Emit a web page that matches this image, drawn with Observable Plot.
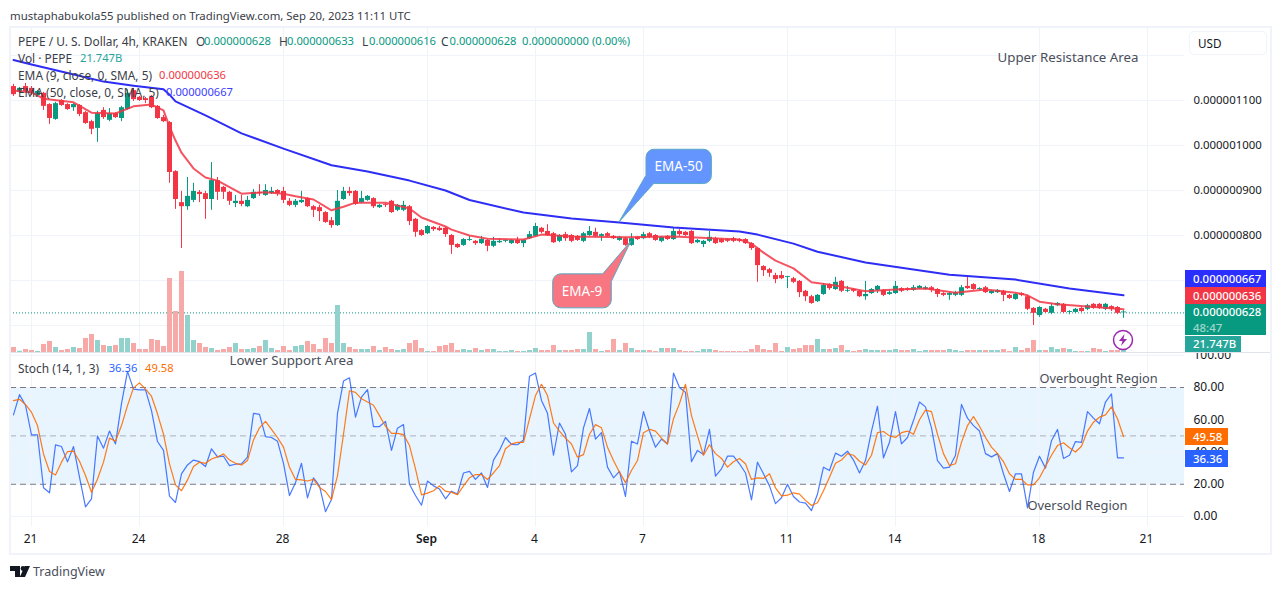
<!DOCTYPE html>
<html>
<head>
<meta charset="utf-8">
<script src="https://cdn.jsdelivr.net/npm/d3@7"></script>
<script src="https://cdn.jsdelivr.net/npm/@observablehq/plot@0.6"></script>
<style>
  html, body { margin: 0; padding: 0; background: #fff; overflow: hidden; }
  body { width: 1281px; height: 589px; position: relative; font-family: "Noto Sans", sans-serif; color: #131722; }
  .abs { position: absolute; white-space: nowrap; }
  .pane { position: absolute; left: 0; }
  .pane svg { display: block; background: transparent; overflow: visible; }
  .leg { position: absolute; font-size: 11.9px; line-height: 16px; white-space: nowrap; color: #3a3d47; }
  .num { font-size: 11.2px; }
  .tag { position: absolute; left: 1185px; color: #fff; font-size: 11.4px; font-weight: 500; padding-left: 8px; box-sizing: border-box; line-height: 17px; }
</style>
</head>
<body>
<script>
// prices are in units of 0.000000001 USD, one candle every 4h
const open = [
  1131,1118,1131,1127,1111,1116,1091,1058,1100,1091,
  1084,1089,1073,1053,1038,1078,1056,1071,1060,1080,
  1122,1107,1104,1107,1087,1062,1051,942,873,864,
  878,896,893,880,922,907,896,871,876,864,
  882,896,889,893,900,898,876,867,873,882,
  864,862,851,833,822,880,898,898,873,878,
  882,862,869,876,856,856,864,836,811,804,
  818,816,816,800,780,778,789,787,782,789,
  776,784,787,782,789,782,793,798,816,809,
  804,787,802,800,798,787,800,807,798,804,
  798,789,793,778,796,793,804,800,787,798,
  791,809,807,809,784,780,787,793,791,791,
  793,791,791,782,771,731,724,711,711,707,
  704,698,676,664,653,669,691,680,698,676,
  680,676,664,671,678,678,669,671,682,682,
  678,682,680,684,680,671,667,667,667,687,
  691,680,684,671,673,676,667,658,671,664,
  638,622,636,627,644,647,629,629,638,636,
  647,647,636,642,640,628];
const close = [
  1113,1127,1120,1116,1120,1087,1060,1093,1089,1080,
  1091,1069,1049,1036,1071,1062,1071,1062,1084,1116,
  1102,1100,1100,1084,1060,1053,940,880,864,887,
  898,891,880,922,896,896,876,876,869,878,
  896,893,900,898,893,878,867,876,878,864,
  856,853,829,822,876,898,893,869,882,887,
  864,867,867,851,867,867,831,807,800,820,
  813,811,802,778,773,791,791,782,791,776,
  787,787,789,789,782,789,802,820,807,800,
  784,800,793,787,789,804,809,798,802,798,
  793,796,778,793,791,802,796,789,796,791,
  809,802,800,782,789,787,796,782,784,787,
  787,787,782,771,733,722,716,702,704,709,
  696,673,664,649,667,689,682,696,676,678,
  676,664,669,680,687,667,673,687,676,678,
  684,687,684,678,669,667,671,673,684,682,
  680,682,673,676,678,667,660,669,667,636,
  627,640,629,642,649,629,631,636,631,644,
  638,638,647,636,627,628];
const high = [
  1136,1129,1138,1131,1122,1118,1093,1096,1102,1093,
  1093,1091,1076,1056,1076,1084,1082,1073,1087,1124,
  1127,1109,1107,1111,1089,1067,1053,944,898,929,
  916,900,898,962,929,909,898,889,889,887,
  902,913,913,907,902,907,882,880,898,884,
  867,867,853,840,900,907,907,900,898,889,
  884,869,871,878,869,876,867,838,813,822,
  820,820,818,802,782,793,798,789,798,791,
  796,793,791,791,796,791,809,827,818,824,
  807,802,807,802,800,807,820,816,804,807,
  800,798,796,804,798,807,807,802,798,800,
  816,813,809,811,791,789,809,796,793,793,
  796,793,793,784,773,733,727,716,720,709,
  707,700,678,667,669,693,693,707,700,687,
  682,678,698,682,689,680,678,698,684,684,
  689,689,687,687,682,673,673,676,689,707,
  693,684,687,678,680,678,669,671,673,667,
  640,642,638,649,651,649,633,638,640,647,
  649,649,649,644,642,633];
const low = [
  1109,1116,1116,1111,1107,1078,1047,1056,1087,1078,
  1076,1064,1047,1024,1007,1058,1053,1060,1053,1078,
  1098,1098,1093,1082,1058,1051,916,858,771,856,
  873,873,836,856,878,880,867,862,864,862,
  880,887,887,891,887,871,864,862,871,862,
  840,831,827,816,820,878,887,867,871,876,
  860,860,862,849,853,853,822,796,798,802,
  809,809,796,758,771,776,787,778,780,764,
  773,782,784,780,780,773,791,796,804,798,
  782,784,787,784,787,784,798,796,787,796,
  791,787,776,776,789,791,793,787,784,789,
  789,798,798,780,782,773,784,780,782,784,
  784,784,780,767,696,709,707,693,702,682,
  693,662,653,647,651,667,678,678,673,673,
  673,662,656,669,671,664,667,669,673,676,
  676,680,678,673,662,664,656,664,664,680,
  678,678,671,669,671,653,658,656,664,633,
  600,618,627,624,642,627,624,627,629,633,
  636,636,633,631,624,616];

// volume in billions
const volume = [
  50,13,30,20,10,80,110,50,20,30,
  50,40,140,180,120,70,60,70,140,140,
  90,30,30,130,120,60,740,410,810,370,
  120,90,50,40,20,30,50,90,30,30,
  40,60,120,40,20,60,20,60,70,110,
  80,30,140,90,470,90,50,30,30,30,
  60,20,50,30,20,30,90,120,40,10,
  10,60,70,90,20,30,20,40,20,30,
  30,10,10,20,10,10,20,40,20,20,
  70,20,20,20,30,30,200,30,10,20,
  130,20,90,40,20,20,20,10,40,40,
  40,20,10,10,10,30,30,20,10,10,
  10,10,10,30,70,30,20,90,10,50,
  30,40,70,70,130,30,30,40,70,20,
  10,20,30,20,20,20,20,30,20,20,
  30,10,20,20,20,20,30,20,10,20,
  20,20,20,20,20,30,10,50,20,40,
  120,20,20,50,30,40,30,10,10,10,
  40,30,10,20,20,21.747];

const stochK = [
  63,75.6,69,50.6,50.6,17.8,14.7,44.4,43.4,33.9,
  43.4,24.4,6,11,50,42.4,53,45,70,90,
  79,78.5,78.5,65.7,46.5,41,12.6,8.7,26.4,32,
  35,34,31,42,37,37.4,31.6,32.4,32.6,36.8,
  64,63.4,49.6,49,46.7,33,13,21,33,11.6,
  24,19,3,10.5,64,84,86,61.6,74,78.7,
  55.8,55.8,59,41,54.8,57,20,13,7,22,
  19,17,11,15.7,14,27,28,23,27,18,
  35,41,49,44.7,44.5,47.5,87,89,72,64,
  38,58,51,27.7,31.6,55,67,48,52,30.6,
  24,28,12.4,46.7,45,65,53,43,48,45,
  89,80,77,34,41,38.4,54,25,29.6,37.4,
  37.4,32.7,27,10.3,33.7,26.5,19,8,11.6,20,
  12.4,9,8.3,3.7,14,30.6,28.5,39.3,37.4,40.5,
  35,27,34.7,53,68.4,36.4,46,65,45,49,
  59.5,71,68,55,34.7,30,30.6,38,69.5,61,
  56.4,53,39,37,39,26.5,15.5,26.5,26.5,5.4,
  27.5,37.4,30,47,54,36,38,46.5,46,65,
  61,57.5,71,76,36.4,36.36];
const stochD = [
  71.9,72.7,69.4,64.7,56.4,38.8,27.9,25.8,33.7,40.3,
  40.5,34.3,25.4,15,23.3,33.7,48.6,46.7,56.4,68.8,
  79.8,82.9,79,74.6,63.7,51,32.6,19.6,16,22.7,
  31,33.7,33,35.7,37,38.8,35,33,32,34.7,
  47.5,55,59,54,49,43,30.5,23,22.7,22,
  23,18,15.5,10.5,25.4,51,78,77,73,71,
  69,62.6,56,51.6,51.6,50.8,44,29.5,13.4,14.5,
  16,19,15.7,15,13.6,19,24,26,26,23,
  27,31.6,42,45,46,46,60.6,75,82,75,
  58,53,48.6,45,36.8,38.4,51,57,55,43,
  34.7,27.5,21,28.5,34.7,52,54,53,48.6,45,
  60.6,70,82,62.6,50,38,44.5,39,36,30.6,
  34,36,32.7,23,24,23.6,26.5,17.8,12.8,13.2,
  14.7,13.9,10,6.8,8.5,16,24.4,33,35,39,
  38,34.3,32,38,52,52.7,50,49,52,53,
  51,60,66,65,51,39,31.6,32.7,46,56.4,
  62,56,49,43,39,34,26.5,23,23,19.6,
  19.6,24,31,38,44,45.7,42.6,40,43.6,53,
  58.5,61.6,63,68,60.6,49.58];

// moving averages, read at the bends of the lines
const ema50Bars = [0,3,9,15,20,25,26,27,32,38,45,53,59,66,72,76,85,93,101,110,121,124,130,134,142,156,167,176,185];
const ema50 = [1190,1180,1161,1142,1133,1125,1113,1098,1067,1027,993,956,942,922,900,879,851,838,829,818,809,802,782,764,740,713,702,682,667];
const ema9Bars = [0,3,5,10,13,17,20,23,25,26,27,28,30,32,34,38,42,45,47,50,53,55,57,62,66,68,72,73,76,79,85,88,93,102,110,121,123,125,127,130,133,137,142,147,152,157,162,167,169,171,174,179,185];
const ema9 = [1122,1118,1104,1096,1073,1071,1087,1091,1078,1042,1011,984,949,929,922,893,896,893,887,880,856,864,873,873,860,840,820,813,800,793,791,802,798,796,798,791,782,762,744,727,696,689,676,680,682,673,680,673,667,653,647,642,636];

const priceTicks = [1100, 1000, 900, 800];
const priceGrid = [1200, 1100, 1000, 900, 800, 700, 600];
const stochTicks = [100, 80, 60, 40, 20, 0];
const dayTicks = ["2023-08-21","2023-08-24","2023-08-28","2023-09-01","2023-09-04","2023-09-07","2023-09-11","2023-09-14","2023-09-18","2023-09-21"].map(d => new Date(d + "T00:00Z"));
const dayLabels = ["21","24","28","Sep","4","7","11","14","18","21"];

const start = Date.UTC(2023, 7, 20, 12);
const barTime = i => new Date(start + i * 4 * 3600 * 1000);
const bars = d3.range(open.length);
const up = i => close[i] >= open[i];

const GREEN = "#089981", RED = "#f23645", GRID = "#f0f3fa", FONT = '"Noto Sans", sans-serif';
const xDomain = [barTime(-0.5), barTime(195.17)];
const base = {
  width: 1281, marginLeft: 10, marginRight: 97, marginTop: 0,
  style: {background: "transparent", fontFamily: FONT, fontSize: "12px", color: "#131722"}
};

function addPane(plot, top) {
  const d = document.createElement("div");
  d.className = "pane";
  d.style.top = top + "px";
  d.append(plot);
  document.body.append(d);
}

// callout shape: a rounded box whose corner runs out to a tip on the chart
function callout(bar, price, label, fill, b) {
  return (index, {x, y}) => {
    const tx = x(barTime(bar)), ty = y(price), r = 8;
    const X0 = tx + b.x0, X1 = tx + b.x1, Y0 = ty + b.y0, Y1 = ty + b.y1;
    const d = b.corner == "bottom-left"
      ? `M${X0 + r},${Y0}H${X1 - r}A${r},${r} 0 0 1 ${X1},${Y0 + r}V${Y1 - r}A${r},${r} 0 0 1 ${X1 - r},${Y1}H${tx + b.px}L${tx},${ty}L${X0},${ty + b.py}V${Y0 + r}A${r},${r} 0 0 1 ${X0 + r},${Y0}Z`
      : `M${X0 + r},${Y0}H${tx + b.px}L${tx},${ty}L${X1},${ty + b.py}V${Y1 - r}A${r},${r} 0 0 1 ${X1 - r},${Y1}H${X0 + r}A${r},${r} 0 0 1 ${X0},${Y1 - r}V${Y0 + r}A${r},${r} 0 0 1 ${X0 + r},${Y0}Z`;
    const g = d3.create("svg:g");
    g.append("path").attr("d", d).attr("fill", fill).attr("stroke", "#5aa9c4").attr("stroke-width", 1);
    g.append("text").attr("x", (X0 + X1) / 2).attr("y", (Y0 + Y1) / 2).attr("dy", "0.35em")
      .attr("text-anchor", "middle").attr("fill", "#fff").attr("font-size", 13.5).text(label);
    return g.node();
  };
}

const noteStyle = {textAnchor: "start", fill: "#4a4e5a"};

const pricePlot = Plot.plot({
  ...base,
  height: 324, marginBottom: 0,
  x: {type: "utc", domain: xDomain, axis: null},
  y: {domain: [540, 1260], axis: null},
  marks: [
    Plot.gridX(dayTicks, {stroke: GRID, strokeOpacity: 1}),
    Plot.gridY(priceGrid, {stroke: GRID, strokeOpacity: 1}),
    Plot.axisY({anchor: "right", ticks: priceTicks, tickSize: 0, tickPadding: 9, textAnchor: "start", fontSize: 11.4,
      tickFormat: d => (d / 1e9).toFixed(9)}),
    Plot.ruleY([628], {stroke: GREEN, strokeDasharray: "1,2"}),
    Plot.ruleX(bars, {x: barTime, y1: i => low[i], y2: i => high[i], stroke: i => up(i) ? GREEN : RED}),
    Plot.ruleX(bars, {x: barTime, strokeWidth: 5,
      y1: i => Math.min(open[i], close[i]),
      y2: i => Math.max(open[i], close[i], Math.min(open[i], close[i]) + 2),
      stroke: i => up(i) ? GREEN : RED}),
    Plot.line(ema9Bars, {x: barTime, y: (d, i) => ema9[i], stroke: RED, strokeWidth: 2, strokeOpacity: 0.85}),
    Plot.line(ema50Bars, {x: barTime, y: (d, i) => ema50[i], stroke: "#2d2df5", strokeWidth: 2}),
    Plot.text(["Upper Resistance Area"], {x: barTime(164), y: 1196, fontSize: 13.3, ...noteStyle}),
    callout(101, 829, "EMA-50", "#6495ff", {corner: "bottom-left", x0: 27, x1: 92.4, y0: -72.7, y1: -38.4, px: 34.7, py: -46.7}),
    callout(103, 787, "EMA-9", "#f87682", {corner: "top-right", x0: -78.3, x1: -19.7, y0: 33, y1: 67, px: -28.3, py: 40.7})
  ]
});

const volumePlot = Plot.plot({
  ...base,
  height: 100, marginBottom: 0,
  x: {type: "utc", domain: xDomain, axis: null},
  y: {domain: [0, 1000], axis: null},
  marks: [
    Plot.ruleX(bars, {x: barTime, y1: 0, y2: i => volume[i], strokeWidth: 5,
      stroke: i => up(i) ? "#92d2cc" : "#f7a9a7"})
  ]
});

const stochPlot = Plot.plot({
  ...base,
  height: 200, marginBottom: 27,
  x: {type: "utc", domain: xDomain, axis: null},
  y: {domain: [-6.2, 101.1], axis: null},
  marks: [
    Plot.rect([0], {y1: 20, y2: 80, fill: "#2196f3", fillOpacity: 0.1}),
    Plot.gridX(dayTicks, {stroke: GRID, strokeOpacity: 1}),
    Plot.gridY(stochTicks, {stroke: GRID, strokeOpacity: 1}),
    Plot.ruleY([80, 20], {stroke: "#787b86", strokeDasharray: "6,4"}),
    Plot.ruleY([50], {stroke: "#787b86", strokeOpacity: 0.55, strokeDasharray: "6,4"}),
    Plot.axisY({anchor: "right", ticks: stochTicks, tickSize: 0, tickPadding: 9, textAnchor: "start",
      tickFormat: d3.format(".2f")}),
    Plot.axisX({anchor: "bottom", ticks: dayTicks.filter((d, i) => dayLabels[i] != "Sep"), tickSize: 0, tickPadding: 8, label: null, dx: -1,
      tickFormat: d => dayLabels[dayTicks.findIndex(t => +t == +d)]}),
    Plot.axisX({anchor: "bottom", ticks: dayTicks.filter((d, i) => dayLabels[i] == "Sep"), tickSize: 0, tickPadding: 8, label: null, dx: -1,
      fontWeight: 600, tickFormat: () => "Sep"}),
    Plot.line(bars, {x: barTime, y: i => stochK[i], stroke: "#2962ff", strokeWidth: 1.2, strokeOpacity: 0.85}),
    Plot.line(bars, {x: barTime, y: i => stochD[i], stroke: "#ff6d00", strokeWidth: 1.2, strokeOpacity: 0.9}),
    Plot.text(["Lower Support Area"], {x: barTime(36), y: 96.7, fontSize: 13.3, ...noteStyle}),
    Plot.text(["Overbought Region"], {x: barTime(171), y: 85.6, fontSize: 12.8, ...noteStyle}),
    Plot.text(["Oversold Region"], {x: barTime(169), y: 6.8, fontSize: 12.9, ...noteStyle})
  ]
});

addPane(pricePlot, 28);
addPane(volumePlot, 252);
addPane(stochPlot, 353);

// legend rows are laid out piece by piece: [left, text, colour]
const legendRows = [
  [33, [[18, "PEPE / U. S. Dollar, 4h, KRAKEN"], [196, "O"], [204, "0.000000628", GREEN], [279, "H"], [287, "0.000000633", GREEN],
        [362, "L"], [369, "0.000000616", GREEN], [441, "C"], [449.5, "0.000000628", GREEN], [522, "0.000000000 (0.00%)", GREEN]]],
  [50, [[18, "Vol · PEPE"], [80, "21.747B", "#26a69a"]]],
  [67, [[18, "EMA (9, close, 0, SMA, 5)"], [159, "0.000000636", RED]]],
  [84, [[18, "EMA (50, close, 0, SMA, 5)"], [166, "0.000000667", "#3d3dff"]]],
  [360, [[18, "Stoch (14, 1, 3)"], [108.7, "36.36", "#2962ff"], [145, "49.58", "#ff6d00"]]]
];
const legendHtml = legendRows.map(([top, parts]) => parts.map(([left, text, color]) =>
  `<div class="leg${color ? " num" : ""}" style="top:${top}px;left:${left}px${color ? ";color:" + color : ""}">${text}</div>`).join("")).join("");

// everything around the panes: frame, legend rows, price tags
document.body.insertAdjacentHTML("beforeend", `
  <div class="abs" style="left:9px;top:26px;width:1259px;height:525px;border:2px solid #f0f3fa"></div>
  <div class="abs" style="left:11px;top:352px;width:1259px;height:1px;background:#e0e3eb"></div>
  <div class="abs" style="left:10px;top:8px;font-size:11.4px;color:#3a3d47">mustaphabukola55 published on TradingView.com, Sep 20, 2023 11:11 UTC</div>
  ${legendHtml}
  <div class="abs" style="left:1189px;top:31px;width:76px;height:22px;border:1.5px solid #f0f3fa;border-radius:5px;font-size:11.7px;line-height:22px;text-indent:8px">USD</div>
  <div class="tag" style="top:270px;width:81px;height:17px;background:#2a2eff">0.000000667</div>
  <div class="tag" style="top:287px;width:81px;height:17px;background:#f23645">0.000000636</div>
  <div class="tag" style="top:304px;width:81px;height:31px;background:#089981;line-height:15.5px">0.000000628<br><span style="opacity:.6">48:47</span></div>
  <div class="tag" style="top:336px;width:56px;height:16px;background:#26a69a;line-height:16px">21.747B</div>
  <div class="tag" style="top:428px;width:43px;height:17px;background:#ff6d00">49.58</div>
  <div class="tag" style="top:450px;width:43px;height:17px;background:#2962ff">36.36</div>
  <svg class="abs" style="left:1112px;top:329px" width="22" height="22" viewBox="0 0 22 22">
    <circle cx="11" cy="11" r="9.5" fill="#fff" fill-opacity="0.4" stroke="#9c27b0" stroke-width="1.5"/>
    <path d="M12.5 5 L7 12 H10.5 L9 17 L15 10 H11.5 Z" fill="#9c27b0"/>
  </svg>
  <svg class="abs" style="left:10px;top:565px" width="22" height="13" viewBox="0 0 22 13">
    <path d="M0 1 H10 V12 H5 V6 H0 Z" fill="#131722"/>
    <circle cx="13" cy="3.5" r="2.4" fill="#131722"/>
    <path d="M20 1 L15 12 H9.8 L14.8 1 Z" fill="#131722"/>
  </svg>
  <div class="abs" style="left:33px;top:563px;font-size:12.5px;color:#4a4e5a">TradingView</div>
`);
</script>
</body>
</html>
